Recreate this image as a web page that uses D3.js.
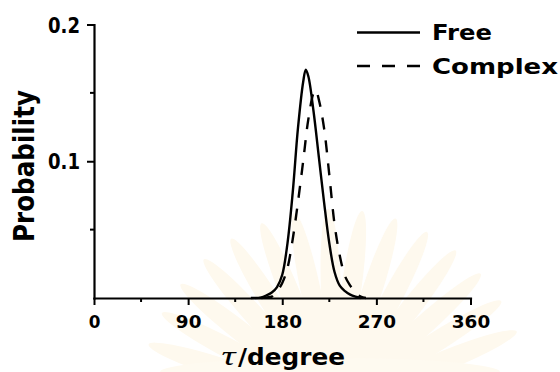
<!DOCTYPE html>
<html>
<head>
<meta charset="utf-8">
<script src="https://cdn.jsdelivr.net/npm/d3@7"></script>
<style>
  html, body { margin: 0; padding: 0; background: #fff; }
  svg { display: block; }
</style>
</head>
<body>
<svg id="chart" width="560" height="372"></svg>
<script>
// ---- data ----
const xTicks = [0, 90, 180, 270, 360];
const xMinorTicks = [45, 135, 225, 315];
const yTicks = [0.1, 0.2];
const yMinorTicks = [0.05, 0.15];
const seriesNames = ["Free", "Complex"];

const freeDeg  = [150, 160, 165, 170, 175, 180, 185, 190, 195, 200, 202.5, 205, 210, 215, 220, 225, 230, 235, 240, 245, 250, 255];
const freeProb = [0, 0.0005, 0.002, 0.004, 0.008, 0.017, 0.040, 0.077, 0.124, 0.158, 0.167, 0.162, 0.136, 0.103, 0.070, 0.040, 0.019, 0.009, 0.005, 0.0025, 0.001, 0];

const complexDeg  = [160, 165, 170, 175, 180, 185, 190, 195, 200, 205, 210, 212, 215, 220, 225, 230, 235, 240, 245, 250, 255, 260];
const complexProb = [0, 0.0005, 0.001, 0.005, 0.011, 0.022, 0.043, 0.070, 0.100, 0.131, 0.150, 0.152, 0.145, 0.124, 0.090, 0.054, 0.031, 0.016, 0.009, 0.004, 0.001, 0];

// ---- drawing ----
const svg = d3.select("#chart");
const FONT = "'DejaVu Sans', 'Liberation Sans', Arial, sans-serif";

// very faint background watermark (sunburst)
const wm = svg.append("g").attr("transform", "translate(335,405)");
d3.range(-72, 73, 10).forEach(a => {
  wm.append("ellipse")
    .attr("cx", 0).attr("cy", -118)
    .attr("rx", 10).attr("ry", 78)
    .attr("transform", `rotate(${a})`)
    .attr("fill", "#fef9ee");
});
svg.append("ellipse").attr("cx", 330).attr("cy", 372).attr("rx", 170).attr("ry", 14)
  .attr("fill", "#fefaf0");

const x = d3.scaleLinear().domain([0, 360]).range([94, 470.5]);
const y = d3.scaleLinear().domain([0, 0.2]).range([298, 24.5]);

// curves
const line = d3.line()
  .x(d => x(d[0])).y(d => y(d[1]))
  .curve(d3.curveCatmullRom.alpha(0.5));

const freeData = freeDeg.map((d, i) => [d, freeProb[i]]);
const complexData = complexDeg.map((d, i) => [d, complexProb[i]]);

svg.append("path").datum(complexData)
  .attr("d", line).attr("fill", "none")
  .attr("stroke", "#000").attr("stroke-width", 2.4)
  .attr("stroke-linejoin", "round")
  .attr("stroke-dasharray", "12,11");

svg.append("path").datum(freeData)
  .attr("d", line).attr("fill", "none")
  .attr("stroke", "#000").attr("stroke-width", 2.4)
  .attr("stroke-linejoin", "round");

// x axis
const xAxis = svg.append("g").attr("transform", `translate(0,${y(0)})`)
  .call(d3.axisBottom(x).tickValues(xTicks).tickSize(7).tickSizeOuter(0).tickPadding(10).tickFormat(d3.format("d")));
svg.append("g").attr("transform", `translate(0,${y(0)})`)
  .selectAll("line").data(xMinorTicks).join("line")
  .attr("x1", d => x(d)).attr("x2", d => x(d))
  .attr("y1", 0).attr("y2", 4)
  .attr("stroke", "#000").attr("stroke-width", 2);

// y axis
const yAxis = svg.append("g").attr("transform", `translate(${x(0)},0)`)
  .call(d3.axisLeft(y).tickValues(yTicks).tickSize(7).tickSizeOuter(0).tickPadding(7).tickFormat(d3.format(".1f")));
svg.append("g").attr("transform", `translate(${x(0)},0)`)
  .selectAll("line").data(yMinorTicks).join("line")
  .attr("x1", 0).attr("x2", -4)
  .attr("y1", d => y(d)).attr("y2", d => y(d))
  .attr("stroke", "#000").attr("stroke-width", 2);

[xAxis, yAxis].forEach(g => {
  g.select(".domain").attr("stroke", "#000").attr("stroke-width", 2.2).attr("stroke-linecap", "square");
  g.selectAll(".tick line").attr("stroke", "#000").attr("stroke-width", 2);
  g.selectAll(".tick text")
    .attr("fill", "#000")
    .attr("font-family", FONT)
    .attr("font-weight", "bold");
});
xAxis.selectAll(".tick text")
  .attr("font-size", 18.5)
  .attr("lengthAdjust", "spacingAndGlyphs")
  .attr("textLength", function () { const t = this.textContent; return t.length === 1 ? 11.7 : t.length * 12.8; });
yAxis.selectAll(".tick text")
  .attr("font-size", 20.5)
  .attr("dy", "0.37em")
  .attr("lengthAdjust", "spacingAndGlyphs")
  .attr("textLength", 32);

// axis titles
svg.append("text")
  .attr("transform", "translate(33.5,166) rotate(-90)")
  .attr("text-anchor", "middle")
  .attr("font-family", FONT).attr("font-weight", "bold").attr("font-size", 27.5)
  .attr("lengthAdjust", "spacingAndGlyphs").attr("textLength", 152)
  .text("Probability");

svg.append("text")
  .attr("x", 221.5).attr("y", 365)
  .attr("font-family", "'Liberation Serif', 'Times New Roman', serif")
  .attr("font-style", "italic").attr("font-size", 27)
  .attr("lengthAdjust", "spacingAndGlyphs").attr("textLength", 14)
  .text("τ");
svg.append("text")
  .attr("x", 238).attr("y", 365)
  .attr("font-family", FONT).attr("font-weight", "bold").attr("font-size", 22.5)
  .attr("lengthAdjust", "spacingAndGlyphs").attr("textLength", 107)
  .text("/degree");

// legend
const legend = svg.append("g");
const legendRows = [
  { name: seriesNames[0], y: 32.5, dash: null, w: 60 },
  { name: seriesNames[1], y: 66, dash: "13,12", w: 126 }
];
legendRows.forEach(r => {
  legend.append("line")
    .attr("x1", 357).attr("x2", 420).attr("y1", r.y).attr("y2", r.y)
    .attr("stroke", "#000").attr("stroke-width", 2.4)
    .attr("stroke-dasharray", r.dash);
  legend.append("text")
    .attr("x", 432).attr("y", r.y + 7.5)
    .attr("font-family", FONT).attr("font-weight", "bold").attr("font-size", 20.5)
    .attr("lengthAdjust", "spacingAndGlyphs").attr("textLength", r.w)
    .text(r.name);
});
</script>
</body>
</html>
